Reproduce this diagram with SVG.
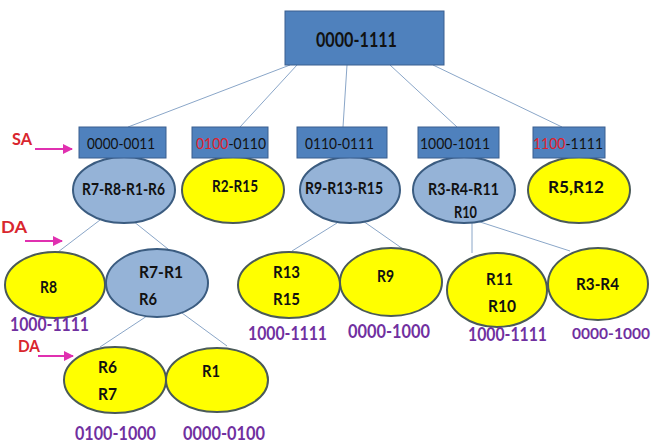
<svg xmlns="http://www.w3.org/2000/svg" width="654" height="445" viewBox="0 0 654 445">
  <defs>
    <style>
      .box { fill: #4f81bd; stroke: #3a5f8f; stroke-width: 1; }
      .blue { fill: #95b3d7; stroke: #3b5c80; stroke-width: 2; }
      .yellow { fill: #ffff00; stroke: #4a5a58; stroke-width: 2; }
      .edge { stroke: #8aa6c8; stroke-width: 1; fill: none; }
      .ptr { stroke: #e030b0; stroke-width: 2; fill: none; }
      text { font-family: Lato, "Open Sans", "Liberation Sans", sans-serif; fill: #111; }
      .rng { font-size: 15px; }
      .lbl { font-size: 17px; font-weight: bold; }
      .top { font-size: 20px; font-weight: bold; }
      .hi { fill: #e0202a; }
      .sub { font-size: 18px; font-weight: bold; fill: #7030a0; }
      .edge-sub { font-size: 16px; }
      .tag { font-size: 17px; font-weight: bold; fill: #d9262e; }
    </style>
    <marker id="arrow" viewBox="0 0 10 10" refX="9" refY="5" markerWidth="5" markerHeight="5" orient="auto" markerUnits="strokeWidth">
      <path d="M0,0 L10,5 L0,10 z" fill="#e030b0"/>
    </marker>
  </defs>

  <rect width="654" height="445" fill="#ffffff"/>

  <!-- tree edges -->
  <g id="connectors">
    <line class="edge" x1="290" y1="65" x2="128" y2="127"/>
    <line class="edge" x1="297" y1="65" x2="240" y2="127"/>
    <line class="edge" x1="347" y1="65" x2="343" y2="127"/>
    <line class="edge" x1="390" y1="65" x2="457" y2="127"/>
    <line class="edge" x1="433" y1="65" x2="562" y2="127"/>
    <line class="edge" x1="100" y1="220" x2="58" y2="252"/>
    <line class="edge" x1="133" y1="221" x2="168" y2="249"/>
    <line class="edge" x1="337" y1="223" x2="292" y2="251"/>
    <line class="edge" x1="363" y1="221" x2="403" y2="249"/>
    <line class="edge" x1="472" y1="222" x2="472" y2="253"/>
    <line class="edge" x1="477" y1="221" x2="570" y2="251"/>
    <line class="edge" x1="147" y1="316" x2="100" y2="347"/>
    <line class="edge" x1="182" y1="313" x2="227" y2="346"/>
  </g>

  <!-- root -->
  <g id="root">
    <rect class="box" x="285" y="11" width="159" height="54"/>
    <text class="top" x="316" y="47" textLength="81" lengthAdjust="spacingAndGlyphs">0000-1111</text>
  </g>

  <!-- first level: source address ranges -->
  <g id="sa-0000-0011">
    <ellipse class="blue" cx="124" cy="190" rx="51" ry="33"/>
    <rect class="box" x="79" y="127" width="87" height="31"/>
    <text class="rng" x="87" y="149" textLength="68" lengthAdjust="spacingAndGlyphs">0000-0011</text>
    <text class="lbl" x="82" y="195" textLength="83" lengthAdjust="spacingAndGlyphs">R7-R8-R1-R6</text>
  </g>
  <g id="sa-0100-0110">
    <ellipse class="yellow" cx="233" cy="190" rx="51" ry="33"/>
    <rect class="box" x="192" y="127" width="76" height="31"/>
    <text class="rng" x="196" y="149" textLength="70" lengthAdjust="spacingAndGlyphs"><tspan class="hi">0100</tspan>-0110</text>
    <text class="lbl" x="212" y="192" textLength="46" lengthAdjust="spacingAndGlyphs">R2-R15</text>
  </g>
  <g id="sa-0110-0111">
    <ellipse class="blue" cx="350" cy="190" rx="50" ry="33"/>
    <rect class="box" x="297" y="127" width="90" height="31"/>
    <text class="rng" x="305" y="149" textLength="69" lengthAdjust="spacingAndGlyphs">0110-0111</text>
    <text class="lbl" x="305" y="194" textLength="78" lengthAdjust="spacingAndGlyphs">R9-R13-R15</text>
  </g>
  <g id="sa-1000-1011">
    <ellipse class="blue" cx="464" cy="190" rx="51" ry="33"/>
    <rect class="box" x="418" y="127" width="81" height="31"/>
    <text class="rng" x="420" y="149" textLength="70" lengthAdjust="spacingAndGlyphs">1000-1011</text>
    <text class="lbl" x="428" y="195" textLength="71" lengthAdjust="spacingAndGlyphs">R3-R4-R11</text>
    <text class="lbl" x="454" y="218" textLength="23" lengthAdjust="spacingAndGlyphs">R10</text>
  </g>
  <g id="sa-1100-1111">
    <ellipse class="yellow" cx="579" cy="190" rx="51" ry="33"/>
    <rect class="box" x="533" y="127" width="72" height="31"/>
    <text class="rng" x="533" y="149" textLength="70" lengthAdjust="spacingAndGlyphs"><tspan class="hi">1100</tspan>-1111</text>
    <text class="lbl" x="548" y="193" textLength="56" lengthAdjust="spacingAndGlyphs">R5,R12</text>
  </g>

  <!-- second level: destination address ranges -->
  <g id="da-r8">
    <ellipse class="yellow" cx="55" cy="285" rx="50" ry="33"/>
    <text class="lbl" x="40" y="293" textLength="17" lengthAdjust="spacingAndGlyphs">R8</text>
  </g>
  <g id="da-r7-r1-r6">
    <ellipse class="blue" cx="157" cy="283" rx="51" ry="34"/>
    <text class="lbl" x="139" y="278" textLength="44" lengthAdjust="spacingAndGlyphs">R7-R1</text>
    <text class="lbl" x="139" y="305" textLength="18" lengthAdjust="spacingAndGlyphs">R6</text>
  </g>
  <g id="da-r13-r15">
    <ellipse class="yellow" cx="289" cy="285" rx="51" ry="33"/>
    <text class="lbl" x="273" y="278" textLength="27" lengthAdjust="spacingAndGlyphs">R13</text>
    <text class="lbl" x="273" y="305" textLength="27" lengthAdjust="spacingAndGlyphs">R15</text>
  </g>
  <g id="da-r9">
    <ellipse class="yellow" cx="391" cy="282" rx="51" ry="34"/>
    <text class="lbl" x="377" y="282" textLength="17" lengthAdjust="spacingAndGlyphs">R9</text>
  </g>
  <g id="da-r11-r10">
    <ellipse class="yellow" cx="497" cy="290" rx="50" ry="37"/>
    <text class="lbl" x="486" y="285" textLength="27" lengthAdjust="spacingAndGlyphs">R11</text>
    <text class="lbl" x="488" y="312" textLength="28" lengthAdjust="spacingAndGlyphs">R10</text>
  </g>
  <g id="da-r3-r4">
    <ellipse class="yellow" cx="598" cy="284" rx="50" ry="36"/>
    <text class="lbl" x="576" y="290" textLength="43" lengthAdjust="spacingAndGlyphs">R3-R4</text>
  </g>

  <!-- third level -->
  <g id="da-r6-r7">
    <ellipse class="yellow" cx="115" cy="380" rx="51" ry="33"/>
    <text class="lbl" x="98" y="373" textLength="19" lengthAdjust="spacingAndGlyphs">R6</text>
    <text class="lbl" x="98" y="400" textLength="19" lengthAdjust="spacingAndGlyphs">R7</text>
  </g>
  <g id="da-r1">
    <ellipse class="yellow" cx="217" cy="380" rx="51" ry="32"/>
    <text class="lbl" x="202" y="377" textLength="18" lengthAdjust="spacingAndGlyphs">R1</text>
  </g>

  <!-- destination ranges under the leaves -->
  <g id="ranges">
    <text class="sub" x="10" y="331" textLength="79" lengthAdjust="spacingAndGlyphs">1000-1111</text>
    <text class="sub" x="248" y="340" textLength="79" lengthAdjust="spacingAndGlyphs">1000-1111</text>
    <text class="sub" x="348" y="338" textLength="82" lengthAdjust="spacingAndGlyphs">0000-1000</text>
    <text class="sub" x="468" y="341" textLength="79" lengthAdjust="spacingAndGlyphs">1000-1111</text>
    <text class="sub edge-sub" x="572" y="339" textLength="78" lengthAdjust="spacingAndGlyphs">0000-1000</text>
    <text class="sub" x="75" y="440" textLength="81" lengthAdjust="spacingAndGlyphs">0100-1000</text>
    <text class="sub" x="183" y="440" textLength="82" lengthAdjust="spacingAndGlyphs">0000-0100</text>
  </g>

  <!-- level tags -->
  <g id="tags">
    <text class="tag" x="12" y="145" textLength="20" lengthAdjust="spacingAndGlyphs">SA</text>
    <line class="ptr" x1="35" y1="149" x2="72" y2="149" marker-end="url(#arrow)"/>
    <text class="tag" x="1" y="233" textLength="26" lengthAdjust="spacingAndGlyphs">DA</text>
    <line class="ptr" x1="25" y1="241" x2="62" y2="241" marker-end="url(#arrow)"/>
    <text class="tag" x="18" y="352" textLength="22" lengthAdjust="spacingAndGlyphs">DA</text>
    <line class="ptr" x1="38" y1="356" x2="73" y2="356" marker-end="url(#arrow)"/>
  </g>
</svg>
